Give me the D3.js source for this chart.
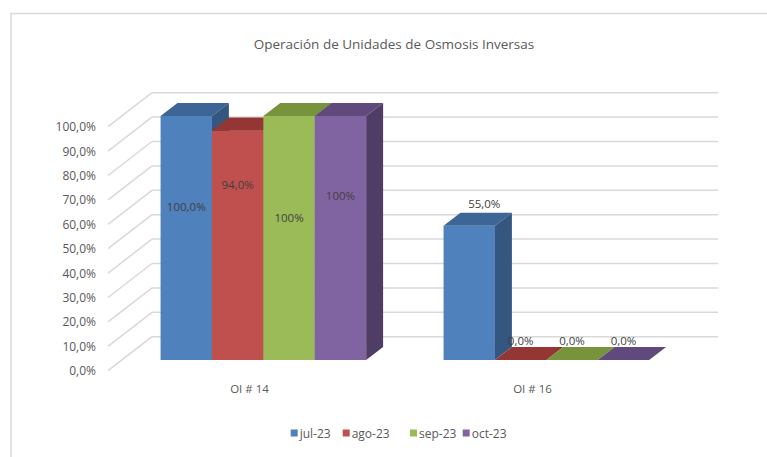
<!DOCTYPE html>
<html>
<head>
<meta charset="utf-8">
<script src="https://cdn.jsdelivr.net/npm/d3@7"></script>
<style>
  body { margin: 0; background: #fff; }
  svg text { font-family: "Open Sans", sans-serif; fill: #595959; }
</style>
</head>
<body>
<svg id="chart" width="767" height="457"></svg>
<script>
// data
const categories = ["OI # 14", "OI # 16"];
const series = ["jul-23", "ago-23", "sep-23", "oct-23"];
const jul23 = [100, 55];
const ago23 = [94, 0];
const sep23 = [100, 0];
const oct23 = [100, 0];
const values = [jul23, ago23, sep23, oct23];
const dataLabels = [["100,0%", "55,0%"], ["94,0%", "0,0%"], ["100%", "0,0%"], ["100%", "0,0%"]];
const yTicks = [0, 10, 20, 30, 40, 50, 60, 70, 80, 90, 100];

// styles
const frontColor = ["#4f81bd", "#c0504d", "#9bbb59", "#8064a2"];
const topColor = ["#3d6596", "#943634", "#77933c", "#604a7b"];
const sideColor = ["#34567f", "#7d2e2c", "#627a31", "#4f3d66"];
// where excel left the labels (in % along the axis)
const labelAt = [[63, 64], [72, 8], [58.4, 8], [67.4, 8]];

const svg = d3.select("#chart");
const fmt = d3.formatLocale({ decimal: ",", thousands: ".", grouping: [3], currency: ["", ""] }).format(".1f");

// chart frame
svg.append("rect")
  .attr("x", 11).attr("y", 13.5).attr("width", 800).attr("height", 500)
  .attr("fill", "none").attr("stroke", "#d9d9d9").attr("stroke-width", 1.5);

svg.append("text")
  .attr("x", 394).attr("y", 44)
  .attr("text-anchor", "middle").attr("dominant-baseline", "central")
  .attr("font-size", "13.5px")
  .text("Operación de Unidades de Osmosis Inversas");

// 3d layout
const depth = { dx: 44, dy: -34 };
const barFront = 0.315, barBack = 0.70;

const x0 = d3.scaleBand().domain(categories).range([108, 674]);
const x1 = d3.scaleBand().domain(series).range([0, x0.bandwidth()]).paddingOuter(0.753);
const y = d3.scaleLinear().domain([0, 100]).range([370.7, 126.7]);

// gridlines: side wall diagonals + back wall
const grid = svg.append("g").attr("stroke", "#d9d9d9").attr("stroke-width", 1.5).attr("fill", "none");
yTicks.forEach(function(t) {
  grid.append("line")
    .attr("x1", x0.range()[0]).attr("y1", y(t))
    .attr("x2", x0.range()[0] + depth.dx).attr("y2", y(t) + depth.dy);
  grid.append("line")
    .attr("x1", x0.range()[0] + depth.dx).attr("y1", y(t) + depth.dy)
    .attr("x2", x0.range()[1] + depth.dx).attr("y2", y(t) + depth.dy);
});

// y labels
svg.append("g").selectAll("text").data(yTicks).join("text")
  .attr("x", 96).attr("y", d => y(d))
  .attr("text-anchor", "end").attr("dominant-baseline", "central")
  .attr("font-size", "12px")
  .text(d => fmt(d) + "%");

// category labels
svg.append("g").selectAll("text").data(categories).join("text")
  .attr("x", d => x0(d) + x0.bandwidth() / 2).attr("y", 388)
  .attr("text-anchor", "middle").attr("dominant-baseline", "central")
  .attr("font-size", "11.5px")
  .text(d => d);

// bars
const fx = depth.dx * barFront, fy = depth.dy * barFront;
const bdx = depth.dx * (barBack - barFront), bdy = depth.dy * (barBack - barFront);
const bars = svg.append("g");
const labels = svg.append("g");

categories.forEach(function(c, ci) {
  series.forEach(function(s, si) {
    const v = values[si][ci];
    const xl = x0(c) + x1(s) + fx;
    const xr = xl + x1.bandwidth();
    const yt = y(v) + fy;
    const yb = y(0) + fy;
    const g = bars.append("g");
    if (v > 0) {
      g.append("rect")
        .attr("x", xl).attr("y", yt).attr("width", xr - xl).attr("height", yb - yt)
        .attr("fill", frontColor[si]);
    }
    g.append("path")
      .attr("d", `M${xl},${yt}L${xr},${yt}L${xr + bdx},${yt + bdy}L${xl + bdx},${yt + bdy}Z`)
      .attr("fill", topColor[si]);
    if (v > 0) {
      g.append("path")
        .attr("d", `M${xr},${yt}L${xr + bdx},${yt + bdy}L${xr + bdx},${yb + bdy}L${xr},${yb}Z`)
        .attr("fill", sideColor[si]);
    }
    const shift = (v > 0 && v < 100 && si === 0) ? 15 : 0;
    labels.append("text")
      .attr("x", (xl + xr) / 2 + shift)
      .attr("y", y(labelAt[si][ci]) + fy)
      .attr("text-anchor", "middle").attr("dominant-baseline", "central")
      .attr("font-size", "11.5px").style("fill", "#404040")
      .text(dataLabels[si][ci]);
  });
});

// legend
const legendX = [290.7, 342.7, 410, 462.7];
const legend = svg.append("g");
series.forEach(function(s, i) {
  legend.append("rect")
    .attr("x", legendX[i]).attr("y", 429.5).attr("width", 7).attr("height", 7)
    .attr("fill", frontColor[i]);
  legend.append("text")
    .attr("x", legendX[i] + 9).attr("y", 433)
    .attr("dominant-baseline", "central").attr("font-size", "12px")
    .text(s);
});
</script>
</body>
</html>
